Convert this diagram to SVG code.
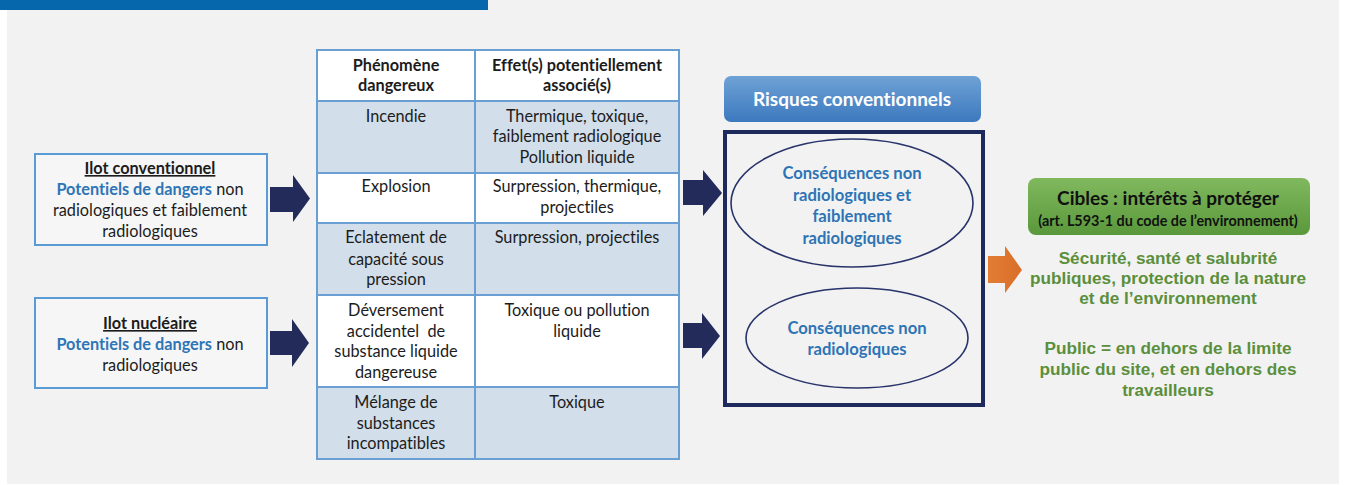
<svg xmlns="http://www.w3.org/2000/svg" width="1346" height="485" viewBox="0 0 1346 485">
<defs>
<linearGradient id="gBlue" x1="0" y1="0" x2="0" y2="1">
<stop offset="0" stop-color="#6fa2d6"/>
<stop offset="1" stop-color="#3c79be"/>
</linearGradient>
<linearGradient id="gGreen" x1="0" y1="0" x2="0" y2="1">
<stop offset="0" stop-color="#80b85e"/>
<stop offset="1" stop-color="#5a983b"/>
</linearGradient>
<linearGradient id="gOrange" x1="0" y1="0" x2="1" y2="0">
<stop offset="0" stop-color="#e27c33"/>
<stop offset="1" stop-color="#d96f2a"/>
</linearGradient>
</defs>
<style>
text{font-family:Lato,"Liberation Sans",sans-serif;text-anchor:middle;fill:#1c1c1c;font-variant-ligatures:none}
.t{font-size:16.3px}
.b{font-weight:bold}
.bl{fill:#2e75b6;font-weight:bold}
.hdr{font-size:16.3px;font-weight:bold}
.ell{font-size:16.6px;font-weight:bold;fill:#2e74b5}
.grn{font-family:"Liberation Sans",Arial,sans-serif;font-size:17.2px;font-weight:bold;fill:#5b8f3b}
.box{fill:#f6f6f6;stroke:#5b9bd5;stroke-width:2}
.cell{stroke:#6a9fd4;stroke-width:2}
.w{fill:#ffffff}
.s{fill:#d2deea}
.arr{fill:#222b5a}
</style>
<rect x="0" y="0" width="1346" height="485" fill="#ffffff"/>
<rect x="7" y="0" width="1332" height="484" fill="#f2f2f2"/>
<rect x="0" y="0" width="488" height="10" fill="#0767ad"/>

<g id="ilot-conventionnel">
<rect class="box" x="35" y="154" width="232" height="91"/>
<text class="t b" x="150" y="174" text-decoration="underline">Ilot conventionnel</text>
<text class="t" x="150" y="195"><tspan class="bl">Potentiels de dangers</tspan> non</text>
<text class="t" x="150" y="216">radiologiques et faiblement</text>
<text class="t" x="150" y="237">radiologiques</text>
</g>

<g id="ilot-nucleaire">
<rect class="box" x="35" y="298" width="232" height="90"/>
<text class="t b" x="150" y="329" text-decoration="underline">Ilot nucléaire</text>
<text class="t" x="150" y="350"><tspan class="bl">Potentiels de dangers</tspan> non</text>
<text class="t" x="150" y="371">radiologiques</text>
</g>

<g id="table">
<rect class="cell w" x="317" y="50" width="158" height="51"/>
<rect class="cell w" x="475" y="50" width="204" height="51"/>
<rect class="cell s" x="317" y="101" width="158" height="72"/>
<rect class="cell s" x="475" y="101" width="204" height="72"/>
<rect class="cell w" x="317" y="173" width="158" height="50"/>
<rect class="cell w" x="475" y="173" width="204" height="50"/>
<rect class="cell s" x="317" y="223" width="158" height="72"/>
<rect class="cell s" x="475" y="223" width="204" height="72"/>
<rect class="cell w" x="317" y="295" width="158" height="92"/>
<rect class="cell w" x="475" y="295" width="204" height="92"/>
<rect class="cell s" x="317" y="387" width="158" height="72"/>
<rect class="cell s" x="475" y="387" width="204" height="72"/>
<text class="hdr" x="396" y="71">Phénomène</text>
<text class="hdr" x="396" y="91">dangereux</text>
<text class="hdr" x="577" y="71">Effet(s) potentiellement</text>
<text class="hdr" x="577" y="91">associé(s)</text>
<text class="t" x="396" y="122">Incendie</text>
<text class="t" x="577" y="122">Thermique, toxique,</text>
<text class="t" x="577" y="142">faiblement radiologique</text>
<text class="t" x="577" y="163">Pollution liquide</text>
<text class="t" x="396" y="192">Explosion</text>
<text class="t" x="577" y="192">Surpression, thermique,</text>
<text class="t" x="577" y="213">projectiles</text>
<text class="t" x="396" y="243">Eclatement de</text>
<text class="t" x="396" y="265">capacité sous</text>
<text class="t" x="396" y="285">pression</text>
<text class="t" x="577" y="243">Surpression, projectiles</text>
<text class="t" x="396" y="316">Déversement</text>
<text class="t" x="396" y="337" xml:space="preserve">accidentel  de</text>
<text class="t" x="396" y="357">substance liquide</text>
<text class="t" x="396" y="378">dangereuse</text>
<text class="t" x="577" y="316">Toxique ou pollution</text>
<text class="t" x="577" y="337">liquide</text>
<text class="t" x="396" y="408">Mélange de</text>
<text class="t" x="396" y="429">substances</text>
<text class="t" x="396" y="449">incompatibles</text>
<text class="t" x="577" y="408">Toxique</text>
</g>

<g id="risques-conventionnels">
<rect x="724" y="76" width="257" height="46" rx="7" fill="url(#gBlue)"/>
<text x="852" y="106" class="b" style="font-size:19px;fill:#ffffff">Risques conventionnels</text>
</g>

<g id="cadre-consequences">
<rect x="725" y="132" width="258" height="273" fill="none" stroke="#1f2a5c" stroke-width="4"/>
</g>

<g id="consequences-1">
<ellipse cx="852" cy="203" rx="121" ry="64" fill="none" stroke="#28336a" stroke-width="1.6"/>
<text class="ell" x="852" y="179">Conséquences non</text>
<text class="ell" x="852" y="201">radiologiques et</text>
<text class="ell" x="852" y="222">faiblement</text>
<text class="ell" x="852" y="244">radiologiques</text>
</g>

<g id="consequences-2">
<ellipse cx="857" cy="338" rx="111" ry="50" fill="none" stroke="#28336a" stroke-width="1.6"/>
<text class="ell" x="857" y="334">Conséquences non</text>
<text class="ell" x="857" y="355">radiologiques</text>
</g>

<g id="cibles">
<rect x="1028" y="178" width="282" height="57" rx="8" fill="url(#gGreen)"/>
<text class="b" x="1168" y="205" style="font-size:19px;fill:#111">Cibles : intérêts à protéger</text>
<text class="b" x="1168" y="226" style="font-size:14.4px;fill:#111">(art. L593-1 du code de l’environnement)</text>
</g>

<g id="interets">
<text class="grn" x="1168" y="264">Sécurité, santé et salubrité</text>
<text class="grn" x="1168" y="284">publiques, protection de la nature</text>
<text class="grn" x="1168" y="304">et de l’environnement</text>
<text class="grn" x="1168" y="354">Public = en dehors de la limite</text>
<text class="grn" x="1168" y="375">public du site, et en dehors des</text>
<text class="grn" x="1168" y="396">travailleurs</text>
</g>

<g id="connectors">
<polygon class="arr" points="270,187 293,187 293,175 310,198.5 293,222 293,212 270,212"/>
<polygon class="arr" points="270,331 292,331 292,319 309,343 292,367 292,355 270,355"/>
<polygon class="arr" points="683,180 703,180 703,170 722,193 703,216 703,205 683,205"/>
<polygon class="arr" points="683,323 702,323 702,313 720,336 702,359 702,348 683,348"/>
<polygon fill="url(#gOrange)" points="988,256 1005,256 1005,246 1022,270 1005,293 1005,283 988,283"/>
</g>
</svg>
